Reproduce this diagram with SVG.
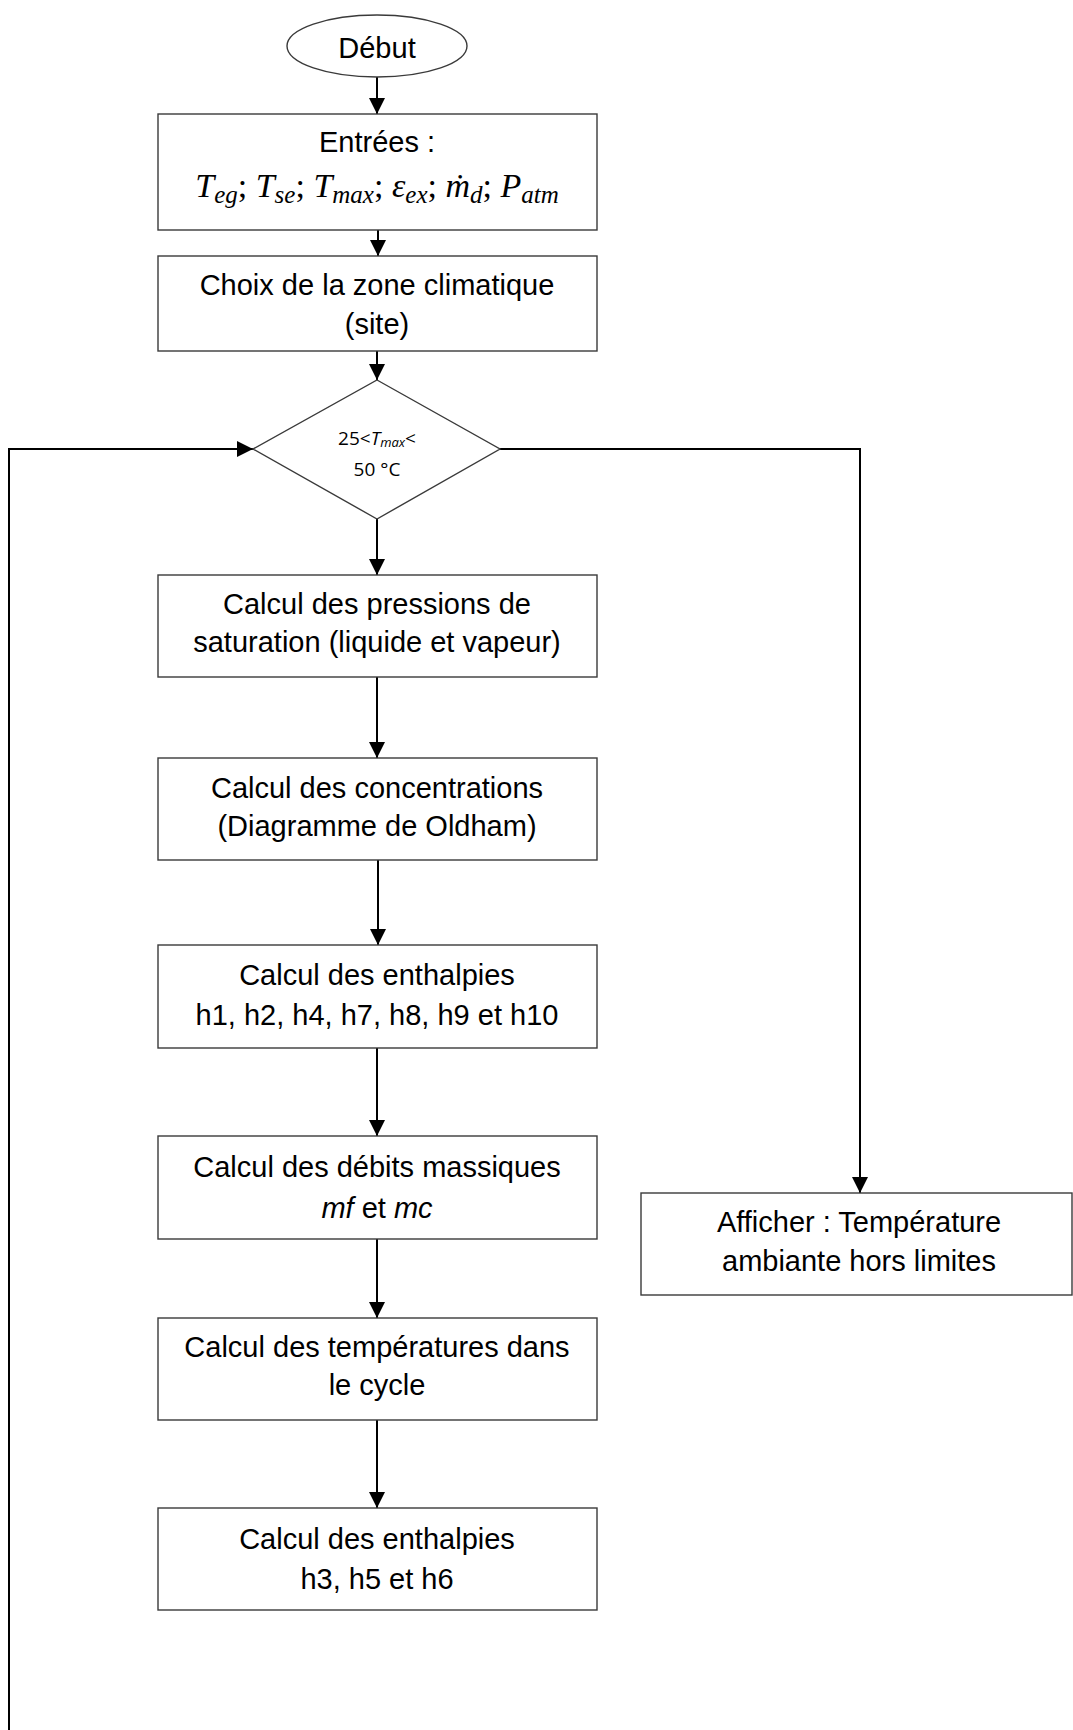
<svg xmlns="http://www.w3.org/2000/svg" width="1073" height="1730" viewBox="0 0 1073 1730">
<style>
.box{fill:#fff;stroke:#3a3a3a;stroke-width:1.4}
.t{font-family:"Liberation Sans",Arial,sans-serif;font-size:29px;fill:#000;text-anchor:middle}
.m{font-family:"Liberation Serif","DejaVu Serif",serif;font-style:italic;font-size:34px;fill:#000}
.s{font-size:25px}
.c{font-family:"Open Sans","Noto Sans",sans-serif;font-size:19px;fill:#000;text-anchor:middle}
.ln{fill:none;stroke:#000;stroke-width:2}
</style>
<defs>
<marker id="ah" markerUnits="userSpaceOnUse" markerWidth="16" markerHeight="16" refX="16" refY="8" orient="auto">
<path d="M0,0 L16,8 L0,16 z" fill="#000"/>
</marker>
</defs>
<g id="connectors">
<line class="ln" x1="377" y1="77" x2="377" y2="114" marker-end="url(#ah)"/>
<line class="ln" x1="378" y1="230" x2="378" y2="256" marker-end="url(#ah)"/>
<line class="ln" x1="377" y1="351" x2="377" y2="380" marker-end="url(#ah)"/>
<line class="ln" x1="377" y1="519" x2="377" y2="575" marker-end="url(#ah)"/>
<line class="ln" x1="377" y1="677" x2="377" y2="758" marker-end="url(#ah)"/>
<line class="ln" x1="378" y1="860" x2="378" y2="945" marker-end="url(#ah)"/>
<line class="ln" x1="377" y1="1048" x2="377" y2="1136" marker-end="url(#ah)"/>
<line class="ln" x1="377" y1="1239" x2="377" y2="1318" marker-end="url(#ah)"/>
<line class="ln" x1="377" y1="1420" x2="377" y2="1508" marker-end="url(#ah)"/>
<polyline class="ln" points="9,1730 9,449 253,449" marker-end="url(#ah)"/>
<polyline class="ln" points="500,449 860,449 860,1193" marker-end="url(#ah)"/>
</g>
<g id="debut">
<ellipse class="box" cx="377" cy="46" rx="90" ry="31"/>
<text class="t" x="377" y="58">Début</text>
</g>
<g id="entrees">
<rect class="box" x="158" y="114" width="439" height="116"/>
<text class="t" x="377" y="152">Entrées :</text>
<text class="m" x="377" y="197" text-anchor="middle">T<tspan class="s" dy="6">eg</tspan><tspan font-style="normal" dy="-6">;  </tspan>T<tspan class="s" dy="6">se</tspan><tspan font-style="normal" dy="-6">;  </tspan>T<tspan class="s" dy="6">max</tspan><tspan font-style="normal" dy="-6">;  </tspan>ε<tspan class="s" dy="6">ex</tspan><tspan font-style="normal" dy="-6">;  </tspan>ṁ<tspan class="s" dy="6">d</tspan><tspan font-style="normal" dy="-6">;  </tspan>P<tspan class="s" dy="6">atm</tspan></text>
</g>
<g id="choix">
<rect class="box" x="158" y="256" width="439" height="95"/>
<text class="t" x="377" y="295">Choix de la zone climatique</text>
<text class="t" x="377" y="334">(site)</text>
</g>
<g id="decision">
<polygon class="box" points="377,380 500,449 377,519 253,449"/>
<text class="c" x="377" y="445">25&lt;<tspan font-style="italic">T</tspan><tspan font-style="italic" font-size="13" dy="2">max</tspan><tspan dy="-2">&lt;</tspan></text>
<text class="c" x="377" y="476">50 °C</text>
</g>
<g id="pressions">
<rect class="box" x="158" y="575" width="439" height="102"/>
<text class="t" x="377" y="614">Calcul des pressions de</text>
<text class="t" x="377" y="652">saturation (liquide et vapeur)</text>
</g>
<g id="concentrations">
<rect class="box" x="158" y="758" width="439" height="102"/>
<text class="t" x="377" y="798">Calcul des concentrations</text>
<text class="t" x="377" y="836">(Diagramme de Oldham)</text>
</g>
<g id="enthalpies1">
<rect class="box" x="158" y="945" width="439" height="103"/>
<text class="t" x="377" y="985">Calcul des enthalpies</text>
<text class="t" x="377" y="1025">h1, h2, h4, h7, h8, h9 et h10</text>
</g>
<g id="debits">
<rect class="box" x="158" y="1136" width="439" height="103"/>
<text class="t" x="377" y="1177">Calcul des débits massiques</text>
<text class="t" x="377" y="1218"><tspan font-style="italic">mf</tspan> et <tspan font-style="italic">mc</tspan></text>
</g>
<g id="temperatures">
<rect class="box" x="158" y="1318" width="439" height="102"/>
<text class="t" x="377" y="1357">Calcul des températures dans</text>
<text class="t" x="377" y="1395">le cycle</text>
</g>
<g id="enthalpies2">
<rect class="box" x="158" y="1508" width="439" height="102"/>
<text class="t" x="377" y="1549">Calcul des enthalpies</text>
<text class="t" x="377" y="1589">h3, h5 et h6</text>
</g>
<g id="afficher">
<rect class="box" x="641" y="1193" width="431" height="102"/>
<text class="t" x="859" y="1232">Afficher : Température</text>
<text class="t" x="859" y="1271">ambiante hors limites</text>
</g>
</svg>
